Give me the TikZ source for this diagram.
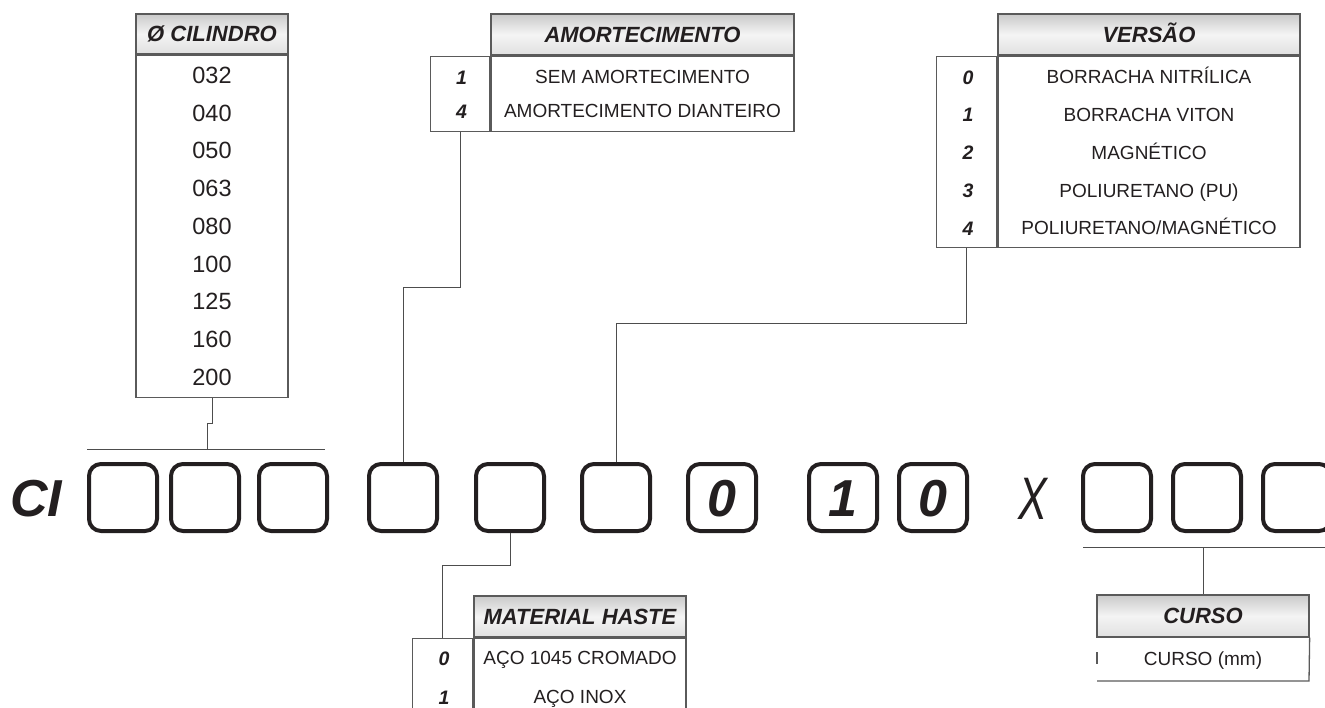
\documentclass[tikz,border=0pt]{standalone}
\usepackage{fontspec}
\setmainfont{Liberation Sans}
\definecolor{ink}{HTML}{231F20}
\definecolor{tabline}{HTML}{5A5A5A}
\definecolor{connline}{HTML}{4D4D4D}
\definecolor{hdtop}{HTML}{CACACA}
\definecolor{hdmid}{HTML}{F4F4F4}
\definecolor{hdbot}{HTML}{E0E0E0}
\begin{document}
\begin{tikzpicture}[x=1pt,y=-1pt,
  frame/.style={draw=tabline, line width=1.3pt},
  head/.style={frame, top color=hdtop, bottom color=hdbot, middle color=hdmid,
    inner sep=0pt, text height=15.8pt, text depth=0pt,
    font=\fontsize{22}{26}\selectfont\bfseries\itshape, text=ink},
  cell/.style={frame, inner sep=0pt},
  entry/.style={font=\fontsize{19}{23}\selectfont, text=ink, inner sep=0pt,
    text height=13.6pt, text depth=0pt},
  bigentry/.style={font=\fontsize{23.5}{27}\selectfont, text=ink, inner sep=0pt,
    text height=16.8pt, text depth=0pt},
  code/.style={font=\fontsize{19.5}{23}\selectfont\bfseries\itshape, text=ink, inner sep=0pt,
    text height=14pt, text depth=0pt},
  slot/.style={draw=ink, line width=4pt, rounded corners=12pt, minimum width=68pt,
    minimum height=67pt, inner sep=0pt, text height=37.2pt, text depth=0pt,
    font=\fontsize{52}{52}\selectfont\bfseries\itshape, text=ink},
  conn/.style={draw=connline, line width=1pt},
]
\useasboundingbox (0,0) rectangle (1325,707);
\clip (0,0) rectangle (1325,707);

% ---------- code slots ----------
\node[font=\fontsize{52}{52}\selectfont\bfseries\itshape, text=ink, inner sep=0pt,
  text height=37.2pt, text depth=0pt] (ci) at (36,497.5) {CI};
\foreach \x/\t [count=\i] in {87/,169/,257/,367/,474/,580/,686/0,807/1,897/0,1081/,1171/,1261/}
  \node[slot] (b\i) at (\x+36,497.5) {\t};
\node[font=\fontsize{60}{60}\selectfont\itshape, text=ink, inner sep=0pt, xscale=0.72,
  text height=43pt, text depth=0pt] (times) at (1033,497.5) {X};

% ---------- cylinder diameter ----------
\node[head, minimum width=152pt, minimum height=40pt] (hcil) at (212,34) {Ø CILINDRO};
\node[cell, minimum width=152pt, minimum height=342pt, anchor=north] (bcil) at (hcil.south) {};
\foreach \v [count=\i] in {032,040,050,063,080,100,125,160,200}
  \node[bigentry] (cil\i) at (212,{75+37.75*(\i-1)}) {\v};
\coordinate (cilA) at (87,449);
\coordinate (cilB) at (325,449);
\coordinate (cilK) at (207,423);
\draw[conn] (cilA) -- (cilB);
\draw[conn] (bcil.south) |- (cilK) -- (cilK |- cilA);

% ---------- cushioning ----------
\node[head, minimum width=303pt, minimum height=41pt] (hamo) at (642.5,34.5) {AMORTECIMENTO};
\node[cell, minimum width=303pt, minimum height=75pt, anchor=north] (bamo) at (hamo.south) {};
\node[cell, minimum width=59pt, minimum height=75pt, anchor=north east] (namo) at (bamo.north west) {};
\node[code] (amo1n) at (461.5,77) {1};
\node[entry] (amo1) at (642.5,77) {SEM AMORTECIMENTO};
\node[code] (amo4n) at (461.5,111) {4};
\node[entry] (amo4) at (642.5,111) {AMORTECIMENTO DIANTEIRO};
\coordinate (amoK) at (462,287);
\draw[conn] (namo.south) -- (namo.south |- amoK) -| (b4.north);

% ---------- version ----------
\node[head, minimum width=302pt, minimum height=41pt] (hver) at (1149,34.5) {VERSÃO};
\node[cell, minimum width=302pt, minimum height=191pt, anchor=north] (bver) at (hver.south) {};
\node[cell, minimum width=60pt, minimum height=191pt, anchor=north east] (nver) at (bver.north west) {};
\foreach \n/\v [count=\i] in {0/{BORRACHA NITRÍLICA},1/{BORRACHA VITON},2/{MAGNÉTICO},3/{POLIURETANO (PU)},4/{POLIURETANO/MAGNÉTICO}}{
  \node[code] (ver\i n) at (968,{77+37.75*(\i-1)}) {\n};
  \node[entry] (ver\i) at (1149,{77+37.75*(\i-1)}) {\v};
}
\coordinate (verK) at (970,323);
\draw[conn] (nver.south) -- (nver.south |- verK) -| (b6.north);

% ---------- rod material ----------
\node[head, minimum width=212pt, minimum height=41pt] (hmat) at (580,616.5) {MATERIAL HASTE};
\node[cell, minimum width=212pt, minimum height=103pt, anchor=north] (bmat) at (hmat.south) {};
\node[cell, minimum width=60pt, minimum height=103pt, anchor=north east] (nmat) at (bmat.north west) {};
\node[code] (mat0n) at (444,658) {0};
\node[entry] (mat0) at (580,658) {AÇO 1045 CROMADO};
\node[code] (mat1n) at (444,697) {1};
\node[entry] (mat1) at (580,697) {AÇO INOX};
\coordinate (matK) at (510,565);
\draw[conn] (b5.south) -- (matK) -| (nmat.north);

% ---------- stroke ----------
\node[head, minimum width=212pt, minimum height=42pt] (hcur) at (1203,616) {CURSO};
\coordinate (curTL) at (1097,637);
\coordinate (curBR) at (1309,681);
\draw[frame] (hcur.south east) -- (curBR) -- (curBR -| curTL);
\draw[frame] (1097,652) -- (1097,664);
\node[entry] (cur) at (1203,659) {CURSO (mm)};
\coordinate (curA) at (1083,547);
\coordinate (curB) at (1330,547);
\draw[conn] (curA) -- (curB);
\draw[conn] (curA -| hcur.north) -- (hcur.north);
\end{tikzpicture}
\end{document}
